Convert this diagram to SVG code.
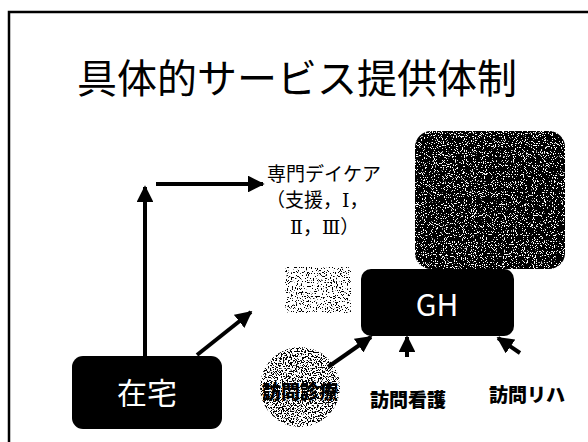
<svg xmlns="http://www.w3.org/2000/svg" width="588" height="442" viewBox="0 0 588 442">
<defs>
<style>
.frame{fill:none;stroke:#000;stroke-width:2.5}
.title{font-family:"Noto Sans CJK JP","Noto Sans",sans-serif;font-size:40px;font-weight:400;fill:#000}
.lbl{font-family:"Noto Sans CJK JP","Noto Sans",sans-serif;font-size:19px;fill:#000}
.rn{font-family:"DejaVu Serif","Liberation Serif",serif}
.bold{font-family:"Noto Sans CJK JP","Noto Sans",sans-serif;font-size:19px;font-weight:900;fill:#000}
.wt{font-family:"Noto Sans CJK JP","Liberation Sans",sans-serif;fill:#fff;text-anchor:middle}
.blk{fill:#000}
.conn line{stroke:#000;stroke-width:4;fill:none}
</style>
<marker id="ah" viewBox="0 0 10 10" refX="9" refY="5" markerWidth="4.2" markerHeight="4.2" orient="auto" markerUnits="strokeWidth">
<path d="M0,0 L10,5 L0,10 z" fill="#000"/>
</marker>
<filter id="noiseDark" x="0" y="0" width="100%" height="100%">
<feTurbulence type="fractalNoise" baseFrequency="0.9" numOctaves="2" seed="3" result="t"/>
<feColorMatrix in="t" type="matrix" values="0 0 0 0 1  0 0 0 0 1  0 0 0 0 1  0 0 0 -25 9.8" result="specks"/>
<feComposite in="specks" in2="SourceGraphic" operator="in" result="s2"/>
<feMerge><feMergeNode in="SourceGraphic"/><feMergeNode in="s2"/></feMerge>
</filter>
<filter id="noiseLight" x="0" y="0" width="100%" height="100%">
<feTurbulence type="fractalNoise" baseFrequency="0.8" numOctaves="2" seed="7" result="t"/>
<feColorMatrix in="t" type="matrix" values="0 0 0 0 0  0 0 0 0 0  0 0 0 0 0  0 0 0 -25 10" result="specks"/>
<feComposite in="specks" in2="SourceGraphic" operator="in"/>
</filter>
<filter id="noiseMid" x="0" y="0" width="100%" height="100%">
<feTurbulence type="fractalNoise" baseFrequency="0.8" numOctaves="2" seed="11" result="t"/>
<feColorMatrix in="t" type="matrix" values="0 0 0 0 0  0 0 0 0 0  0 0 0 0 0  0 0 0 -25 12" result="specks"/>
<feComposite in="specks" in2="SourceGraphic" operator="in"/>
</filter>
</defs>
<rect width="588" height="442" fill="#fff"/>
<polyline class="frame" points="9,442 9,12 588,12"/>
<text class="title" x="297" y="93" text-anchor="middle">具体的サービス提供体制</text>

<g id="dark-box">
<rect x="415" y="131" width="150" height="138" rx="16" fill="#000" filter="url(#noiseDark)"/>
</g>

<g id="faint-box">
<rect x="285" y="267" width="66" height="46" fill="#000" filter="url(#noiseLight)"/>
</g>

<g id="day-care">
<text class="lbl" x="267" y="181">専門デイケア</text>
<text class="lbl" x="266" y="207">（支援，<tspan class="rn">Ⅰ</tspan>，</text>
<text class="lbl" x="290" y="234"><tspan class="rn">Ⅱ</tspan>，<tspan class="rn">Ⅲ</tspan>）</text>
</g>

<g id="GH">
<rect x="361" y="269" width="153" height="67" rx="10" class="blk"/>
<text class="wt" x="437" y="316" font-size="30" font-family="Liberation Sans,sans-serif">GH</text>
</g>

<g id="zaitaku">
<rect x="72" y="356" width="150" height="73" rx="11" class="blk"/>
<text class="wt" x="147" y="404" font-size="30">在宅</text>
</g>

<g id="houmon-shinryo">
<circle cx="300" cy="387" r="40" fill="#000" filter="url(#noiseMid)"/>
<text class="bold" x="300" y="399" text-anchor="middle">訪問診療</text>
</g>

<g id="houmon-kango">
<text class="bold" x="408" y="407" text-anchor="middle">訪問看護</text>
</g>

<g id="houmon-riha">
<text class="bold" x="527" y="402" text-anchor="middle">訪問リハ</text>
</g>

<g class="conn" id="connectors">
<line x1="145" y1="356" x2="145" y2="187" marker-end="url(#ah)"/>
<line x1="156" y1="184" x2="263" y2="184" marker-end="url(#ah)"/>
<line x1="197" y1="355" x2="251" y2="312" marker-end="url(#ah)"/>
<line x1="328" y1="367" x2="371" y2="337" marker-end="url(#ah)"/>
<line x1="407" y1="357" x2="407" y2="337" marker-end="url(#ah)"/>
<line x1="520" y1="353" x2="498" y2="338" marker-end="url(#ah)"/>
</g>
</svg>
